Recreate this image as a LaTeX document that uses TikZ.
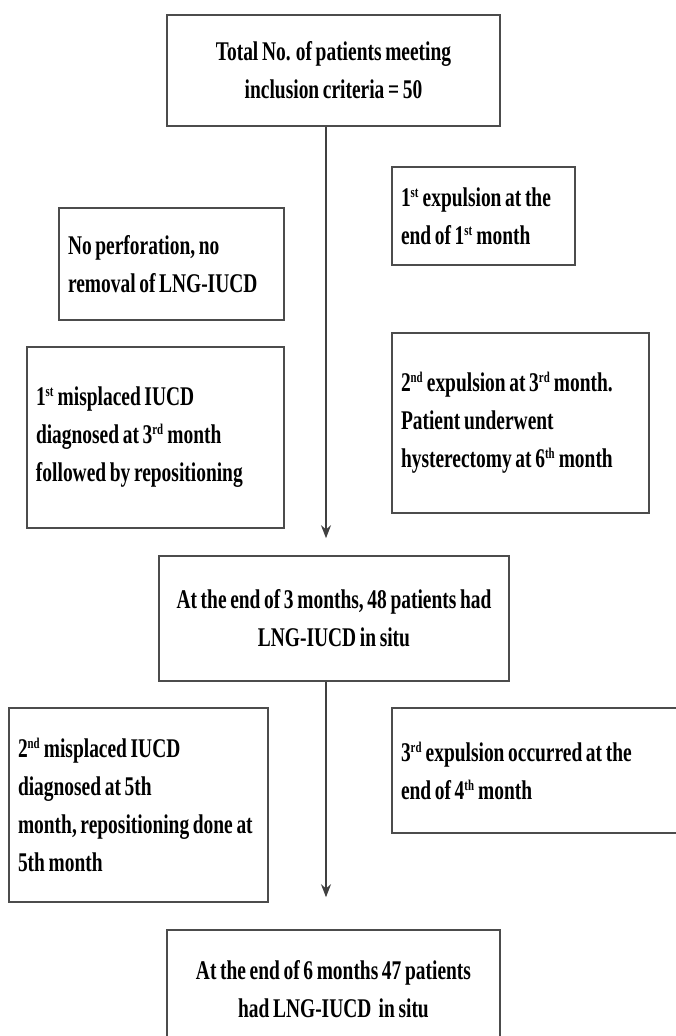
\documentclass[tikz,border=0pt]{standalone}
\usepackage{fontspec}
\setmainfont{Liberation Serif}[FakeStretch=0.72, WordSpace=0.75]
\usetikzlibrary{arrows.meta}
\newcommand{\ord}[1]{\textsuperscript{\fontsize{15}{15}\selectfont #1}}

\begin{document}
\begin{tikzpicture}[x=1pt, y=-1pt,
  box/.style={rectangle, draw=black!70, line width=1.6pt, inner xsep=9pt,
              font=\bfseries\fontsize{27}{38}\selectfont},
  sidebox/.style={box, align=flush left},
  mainbox/.style={box, align=center},
  arrow/.style={-{Stealth[length=13pt, width=10pt]}, line width=1.6pt, draw=black!75}
]
  \useasboundingbox (0,0) rectangle (675,1036);

  % main column
  \node[mainbox, minimum width=333pt, minimum height=111pt] (total) at (333.5,70.5)
    {Total No. of patients meeting\\inclusion criteria = 50};
  \node[mainbox, minimum width=350pt, minimum height=125pt] (three) at (334,618.5)
    {At the end of 3 months, 48 patients had\\LNG-IUCD in situ};
  \node[mainbox, minimum width=333pt, minimum height=118pt] (six) at (333.5,989)
    {At the end of 6 months 47 patients\\had LNG-IUCD\ \ in situ};

  % first three months
  \node[sidebox, text width=207pt, minimum height=112pt] (noperf) at (171.5,264)
    {No perforation, no\\removal of LNG-IUCD};
  \node[sidebox, text width=239pt, minimum height=181pt] (mis1) at (155.5,437.5)
    {1\ord{st} misplaced IUCD\\diagnosed at 3\ord{rd} month\\followed by repositioning};
  \node[sidebox, text width=165pt, minimum height=98pt] (exp1) at (483.5,216)
    {1\ord{st} expulsion at the\\end of 1\ord{st} month};
  \node[sidebox, text width=239pt, minimum height=180pt] (exp2) at (520.5,423)
    {2\ord{nd} expulsion at 3\ord{rd} month.\\Patient underwent\\hysterectomy at 6\ord{th} month};

  % months 4 to 6
  \node[sidebox, text width=241pt, minimum height=194pt] (mis2) at (138.5,805)
    {2\ord{nd} misplaced IUCD\\diagnosed at 5th\\month, repositioning done at\\5th month};
  \node[sidebox, text width=280pt, minimum height=125pt] (exp3) at (541,770.5)
    {3\ord{rd} expulsion occurred at the\\end of 4\ord{th} month};

  \draw[arrow, shorten >=17pt] ([xshift=-7.5pt]total.south) -- ([xshift=-7.5pt]total.south |- three.north);
  \draw[arrow, shorten >=32pt] ([xshift=-8pt]three.south) -- ([xshift=-8pt]three.south |- six.north);
\end{tikzpicture}
\end{document}
